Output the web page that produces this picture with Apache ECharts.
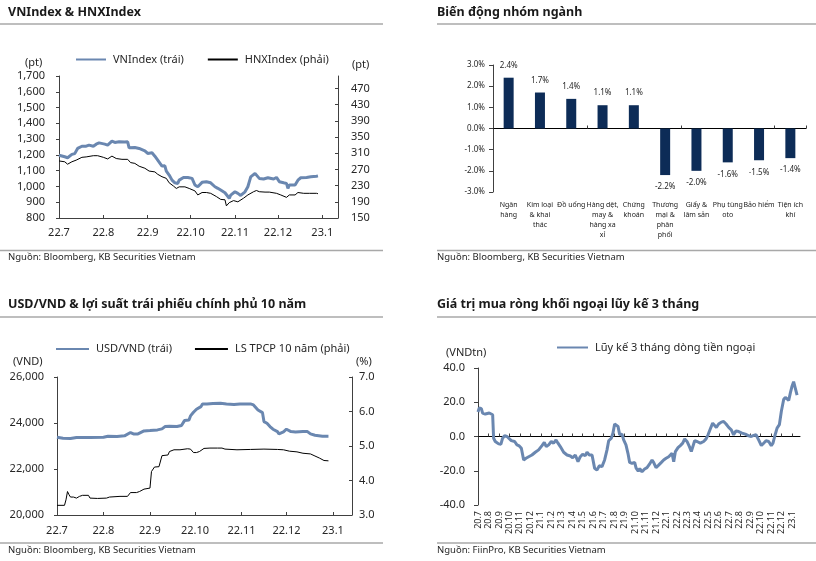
<!DOCTYPE html>
<html><head><meta charset="utf-8">
<script src="https://cdn.jsdelivr.net/npm/echarts@6/dist/echarts.min.js"></script>
<style>html,body{margin:0;padding:0;background:#fff}#c{width:816px;height:561px}</style>
</head><body><div id="c"></div>
<script>
// ---------- Panel 1: VNIndex & HNXIndex (x = days since 2022-07-01) ----------
const vnDay = [0,4,6,9,11,13,16,19,21,24,26,28,32,34,37,39,40,42,46,48,49,53,56,60,62,65,67,69,72,74,75,77,79,81,83,84,87,90,93,95,97,100,103,106,109,111,113,116,117,119,120,123,125,127,130,132,134,137,138,140,143,146,150,152,154,157,159,160,161,165,167,169,173,176,180,181];
const vnVal = [1198,1188,1182,1203,1208,1241,1255,1255,1262,1255,1268,1276,1268,1262,1287,1279,1272,1283,1281,1283,1245,1247,1241,1226,1209,1213,1192,1167,1129,1131,1097,1072,1040,1023,1019,1040,1057,1057,1051,1009,998,1026,1030,1023,998,988,977,960,966,925,945,966,956,943,966,998,1061,1083,1091,1051,1047,1055,1047,1057,1030,1023,1019,988,1009,1009,1040,1055,1057,1061,1065,1067];
const hnxDay = [0,4,6,9,12,16,19,24,27,31,34,37,40,44,48,50,53,56,60,63,67,69,72,75,77,80,82,84,88,91,95,97,100,103,106,110,113,116,117,119,122,125,129,132,136,138,140,144,147,152,155,159,161,165,167,171,175,180,181];
const hnxVal = [291,289,283,289,293,300,301,304,304,300,296,303,297,295,295,287,285,278,273,266,264,258,252,248,237,229,223,227,227,223,217,207,213,213,211,203,196,195,180,188,193,190,199,207,215,218,215,214,214,211,207,201,207,207,213,211,211,211,210];
const monthDays = [0,31,62,92,123,153,184];
const monthLabels = ['22.7','22.8','22.9','22.10','22.11','22.12','23.1'];
const vnTicks = [800,900,1000,1100,1200,1300,1400,1500,1600,1700];
const hnxTicks = [150,190,230,270,310,350,390,430,470];

// ---------- Panel 2: Biến động nhóm ngành ----------
const sectors = ['Ngân\nhàng','Kim loại\n& khai\nthác','Đồ uống','Hàng dệt,\nmay &\nhàng xa\nxỉ','Chứng\nkhoán','Thương\nmại &\nphân\nphối','Giấy &\nlâm sản','Phụ tùng\noto','Bảo hiểm','Tiện ích\nkhí'];
const sectorChg = [2.4,1.7,1.4,1.1,1.1,-2.2,-2.0,-1.6,-1.5,-1.4];

// ---------- Panel 3: USD/VND & LS TPCP 10 năm (days since 2022-07-01) ----------
const usdDay = [0,4,9,13,22,31,34,40,45,49,51,54,58,62,67,70,72,75,80,83,85,88,89,91,93,96,97,100,104,109,113,118,122,129,131,134,137,138,140,142,144,147,148,151,153,156,159,164,167,169,172,177,181];
const usdVal = [23384,23340,23323,23367,23367,23384,23427,23410,23441,23585,23527,23527,23657,23671,23700,23744,23845,23860,23845,23888,24104,24133,24308,24468,24599,24711,24829,24829,24843,24858,24829,24800,24829,24829,24785,24568,24451,24061,23988,23845,23729,23627,23527,23613,23729,23627,23613,23627,23627,23527,23470,23427,23427];
const bondDay = [0,5,6,7,8,9,11,12,13,15,17,21,22,27,33,35,42,47,49,53,55,58,62,63,65,68,70,71,74,75,78,82,87,89,91,93,95,98,102,107,110,112,120,129,138,147,151,155,160,164,169,172,175,178,181];
const bondVal = [3.28,3.28,3.44,3.68,3.59,3.52,3.52,3.56,3.49,3.54,3.57,3.57,3.49,3.48,3.49,3.52,3.54,3.54,3.65,3.65,3.68,3.75,3.78,4.26,4.39,4.40,4.72,4.74,4.74,4.84,4.89,4.89,4.92,4.91,4.81,4.81,4.84,4.93,4.94,4.94,4.94,4.91,4.89,4.90,4.91,4.90,4.89,4.85,4.83,4.79,4.77,4.71,4.65,4.58,4.57];
const usdTicks = [20000,22000,24000,26000];
const bondTicks = [3,4,5,6,7];

// ---------- Panel 4: Lũy kế 3 tháng dòng tiền ngoại (x = months since 2020-07) ----------
const flowMonth = [0,0.12,0.32,0.44,0.7,0.86,1.08,1.27,1.4,1.49,1.65,1.81,1.97,2.19,2.35,2.54,2.77,2.93,3.18,3.5,3.72,3.94,4.14,4.36,4.58,4.84,5.15,5.47,5.79,6.11,6.33,6.52,6.75,7.0,7.22,7.45,7.64,7.86,8.18,8.5,8.82,9.04,9.29,9.55,9.77,9.99,10.25,10.41,10.63,10.89,11.14,11.36,11.59,11.84,12.09,12.32,12.48,12.73,12.89,13.05,13.21,13.37,13.53,13.75,13.91,14.13,14.32,14.48,14.71,14.96,15.1,15.3,15.45,15.66,15.91,16.14,16.36,16.62,16.77,17.0,17.25,17.51,17.73,17.96,18.21,18.37,18.53,18.69,18.85,19.1,19.32,19.55,19.74,19.96,20.19,20.37,20.5,20.69,20.92,21.23,21.55,21.78,21.97,22.19,22.41,22.6,22.76,22.98,23.24,23.46,23.69,23.94,24.19,24.41,24.64,24.89,25.21,25.53,25.85,26.1,26.32,26.55,26.8,27.06,27.28,27.5,27.76,28.01,28.17,28.33,28.56,28.78,28.97,29.19,29.35,29.51,29.67,29.83,29.99,30.14,30.31,30.47];
const flowVal = [14.3,16.7,16.3,13.7,13.1,14.1,13.7,13.1,12.7,-1,-2.9,-2.5,-4.3,-4.5,-1,0.4,0,-1,-2.4,-2.9,-4.9,-5.5,-6.9,-13.7,-12.7,-11.8,-10.8,-9.2,-7.8,-5.3,-3.5,-5.9,-4.9,-2.9,-3.9,-2,-3.9,-5.9,-9.2,-10.8,-11.4,-12.4,-10.8,-14.7,-11.8,-10.4,-11.2,-9.2,-10.8,-10.8,-18.6,-19.6,-17.1,-17.6,-13.7,-7.8,-2.5,-1,2,7.3,8.4,5.9,1,1.4,-2,-4.9,-9.8,-15.1,-15.7,-15.1,-18.5,-20.2,-18.8,-20.6,-19,-18.2,-16.3,-13.7,-15.1,-18.2,-16.7,-15.1,-13.7,-12.7,-11.8,-10.8,-9.8,-14.7,-8.8,-6.5,-5.3,-3.9,-1.4,-2.9,-5.9,-8.8,-9.8,-2.5,-2.9,-3.9,-2.9,-1.4,1,4.5,7.8,6.9,5.3,7.3,8.4,8.8,7.3,5.3,3.9,1,3.3,2.9,2,1.4,0.4,0,0.6,1,-2,-5.3,-3.9,-2.5,-2.9,-5.3,-3.9,0,4.9,6.9,14.7,21.6,22.9,22.2,21,25.5,29.4,32,31.4,24.1];
const flowLabels = ['20.7','20.8','20.9','20.10','20.11','20.12','21.1','21.2','21.3','21.4','21.5','21.6','21.7','21.8','21.9','21.10','21.11','21.12','22.1','22.2','22.3','22.4','22.5','22.6','22.7','22.8','22.9','22.10','22.11','22.12','23.1'];
const flowTicks = [-40,-20,0,20,40];

// ---------- build ----------
const F = '"Noto Sans", sans-serif';
const TXT = '#262626';
const AX = '#404040';
const zip = (a, b) => a.map((x, i) => [x, b[i]]);
const flowPos = flowLabels.map((_, i) => i);

function lbl(extra) { return Object.assign({ color: TXT, fontFamily: F, fontSize: 11 }, extra); }
function axLine(show) { return { show: show, onZero: false, lineStyle: { color: AX, width: 1 } }; }

const chart = echarts.init(document.getElementById('c'), null, { renderer: 'canvas' });

const grids = [
  { left: 59, top: 76, width: 279, height: 142 },
  { left: 493, top: 65, width: 313, height: 127 },
  { left: 57, top: 377, width: 295, height: 138 },
  { left: 478, top: 368, width: 322, height: 137 }
].map(g => Object.assign({ containLabel: false, outerBoundsMode: 'none' }, g));

const xAxis = [
  { gridIndex: 0, type: 'value', min: 0, max: 195, axisLine: axLine(true),
    axisTick: { inside: true, length: 3, lineStyle: { color: AX }, customValues: monthDays },
    axisLabel: lbl({ margin: 9, customValues: monthDays, formatter: v => monthLabels[monthDays.indexOf(v)] }),
    splitLine: { show: false } },
  { gridIndex: 1, type: 'category', data: sectors, axisLine: { show: true, onZero: true, lineStyle: { color: '#000', width: 1 } },
    axisTick: { show: true, inside: true, length: 3, lineStyle: { color: AX } }, axisLabel: { show: false } },
  { gridIndex: 1, type: 'category', data: sectors, position: 'bottom', axisLine: { show: false, onZero: false },
    axisTick: { show: false },
    axisLabel: lbl({ interval: 0, fontSize: 7, lineHeight: 10, margin: 8, color: '#1a1a1a', verticalAlign: 'top' }) },
  { gridIndex: 2, type: 'value', min: 0, max: 196.7, axisLine: axLine(true),
    axisTick: { inside: true, length: 3, lineStyle: { color: AX }, customValues: monthDays },
    axisLabel: lbl({ margin: 10, customValues: monthDays, formatter: v => monthLabels[monthDays.indexOf(v)] }),
    splitLine: { show: false } },
  { gridIndex: 3, type: 'value', min: 0, max: 30.75, axisLine: { show: true, onZero: true, lineStyle: { color: '#000', width: 1 } },
    axisTick: { inside: true, length: 3, lineStyle: { color: AX }, customValues: flowPos },
    axisLabel: { show: false }, splitLine: { show: false } },
  { gridIndex: 3, type: 'value', min: 0, max: 30.75, position: 'bottom', axisLine: { show: false, onZero: false },
    axisTick: { show: false },
    axisLabel: lbl({ fontSize: 9, rotate: 90, margin: 6, customValues: flowPos, formatter: v => flowLabels[Math.round(v)] }),
    splitLine: { show: false } }
];

const yAxis = [
  { gridIndex: 0, type: 'value', position: 'left', min: 800, max: 1700, interval: 100, axisLine: axLine(true),
    axisTick: { show: true, length: 3, lineStyle: { color: AX } },
    axisLabel: lbl({ margin: 14, customValues: vnTicks, formatter: v => v.toLocaleString('en-US') }), splitLine: { show: false } },
  { gridIndex: 0, type: 'value', position: 'right', min: 150, max: 501, axisLine: axLine(true),
    axisTick: { show: true, inside: true, length: 3, lineStyle: { color: AX }, customValues: hnxTicks },
    axisLabel: lbl({ margin: 13, customValues: hnxTicks }), splitLine: { show: false } },
  { gridIndex: 1, type: 'value', min: -3, max: 3, interval: 1, axisLine: axLine(true),
    axisTick: { show: true, length: 4, lineStyle: { color: AX } },
    axisLabel: lbl({ fontSize: 8, margin: 8, formatter: v => v.toFixed(1) + '%' }), splitLine: { show: false } },
  { gridIndex: 2, type: 'value', position: 'left', min: 20000, max: 26000, interval: 2000, axisLine: axLine(true),
    axisTick: { show: true, length: 3, lineStyle: { color: AX } },
    axisLabel: lbl({ margin: 13, formatter: v => v.toLocaleString('en-US') }), splitLine: { show: false } },
  { gridIndex: 2, type: 'value', position: 'right', min: 3, max: 7, interval: 1, axisLine: axLine(true),
    axisTick: { show: true, inside: true, length: 3, lineStyle: { color: AX } },
    axisLabel: lbl({ margin: 7, formatter: v => v.toFixed(1) }), splitLine: { show: false } },
  { gridIndex: 3, type: 'value', min: -40, max: 40, interval: 20, axisLine: axLine(true),
    axisTick: { show: true, length: 4, lineStyle: { color: AX } },
    axisLabel: lbl({ margin: 13, formatter: v => v.toFixed(1) }), splitLine: { show: false } }
];

const BLUE = '#6a87b0';
const NAVY = '#0d2c57';
const series = [
  { name: 'VNIndex (trái)', type: 'line', xAxisIndex: 0, yAxisIndex: 0, data: zip(vnDay, vnVal), symbol: 'none',
    lineStyle: { color: BLUE, width: 3 }, itemStyle: { color: BLUE } },
  { name: 'HNXIndex (phải)', type: 'line', xAxisIndex: 0, yAxisIndex: 1, data: zip(hnxDay, hnxVal), symbol: 'none',
    lineStyle: { color: '#000', width: 1 }, itemStyle: { color: '#000' } },
  { name: 'sector', type: 'bar', xAxisIndex: 1, yAxisIndex: 2, barWidth: 10,
    itemStyle: { color: NAVY },
    data: sectorChg.map(v => ({ value: v, label: { position: v < 0 ? 'bottom' : 'top' } })),
    label: { show: true, distance: 8, color: TXT, fontFamily: F, fontSize: 8, formatter: p => p.value.toFixed(1) + '%' } },
  { name: 'USD/VND (trái)', type: 'line', xAxisIndex: 3, yAxisIndex: 3, data: zip(usdDay, usdVal), symbol: 'none',
    lineStyle: { color: BLUE, width: 3 }, itemStyle: { color: BLUE } },
  { name: 'LS TPCP 10 năm (phải)', type: 'line', xAxisIndex: 3, yAxisIndex: 4, data: zip(bondDay, bondVal), symbol: 'none',
    lineStyle: { color: '#000', width: 1 }, itemStyle: { color: '#000' } },
  { name: 'Lũy kế 3 tháng dòng tiền ngoại', type: 'line', xAxisIndex: 4, yAxisIndex: 5, data: zip(flowMonth, flowVal), symbol: 'none',
    lineStyle: { color: BLUE, width: 3 }, itemStyle: { color: BLUE } }
];

const legendBase = { orient: 'horizontal', padding: 0, itemHeight: 10, itemStyle: { opacity: 0 },
  textStyle: { color: TXT, fontFamily: F, fontSize: 11, padding: [0, 0, 0, 2] }, selectedMode: false };
const legends = [
  Object.assign({}, legendBase, { left: 75, top: 54, itemWidth: 30, itemGap: 23, data: ['VNIndex (trái)', 'HNXIndex (phải)'] }),
  Object.assign({}, legendBase, { left: 55, top: 343.5, itemWidth: 33, itemGap: 22, data: ['USD/VND (trái)', 'LS TPCP 10 năm (phải)'] }),
  Object.assign({}, legendBase, { left: 556, top: 342, itemWidth: 31, itemGap: 20, data: ['Lũy kế 3 tháng dòng tiền ngoại'] })
];

function text(x, y, s, size, weight, align) {
  return { type: 'text', left: x, top: y, style: { text: s, fill: weight === 'bold' ? '#1a1a1a' : TXT, font: (weight || 'normal') + ' ' + size + 'px ' + F, textAlign: align || 'left', textVerticalAlign: 'middle' } };
}
function hline(x1, x2, y) {
  return { type: 'line', shape: { x1: x1, y1: y, x2: x2, y2: y }, style: { stroke: '#a8a8a8', lineWidth: 1.5 } };
}
const graphic = [
  text(8, 6, 'VNIndex & HNXIndex', 12.5, 'bold'),
  text(437, 6, 'Biến động nhóm ngành', 12.5, 'bold'),
  text(8, 298, 'USD/VND & lợi suất trái phiếu chính phủ 10 năm', 12.5, 'bold'),
  text(437, 298, 'Giá trị mua ròng khối ngoại lũy kế 3 tháng', 12.5, 'bold'),
  hline(0, 383, 24), hline(437, 816, 24), hline(0, 383, 317), hline(437, 816, 317),
  hline(0, 383, 250.5), hline(437, 816, 250.5), hline(0, 383, 543), hline(437, 816, 543),
  text(8, 252, 'Nguồn: Bloomberg, KB Securities Vietnam', 9.5),
  text(437, 252, 'Nguồn: Bloomberg, KB Securities Vietnam', 9.5),
  text(8, 545, 'Nguồn: Bloomberg, KB Securities Vietnam', 9.5),
  text(437, 545, 'Nguồn: FiinPro, KB Securities Vietnam', 9.5),
  text(25, 57, '(pt)', 11), text(352, 59, '(pt)', 11),
  text(13, 356, '(VND)', 11), text(356, 356, '(%)', 11),
  text(446, 347, '(VNDtn)', 11)
];

chart.setOption({
  animation: false,
  backgroundColor: '#fff',
  textStyle: { fontFamily: F },
  grid: grids, xAxis: xAxis, yAxis: yAxis, series: series, legend: legends, graphic: graphic
});
</script></body></html>
